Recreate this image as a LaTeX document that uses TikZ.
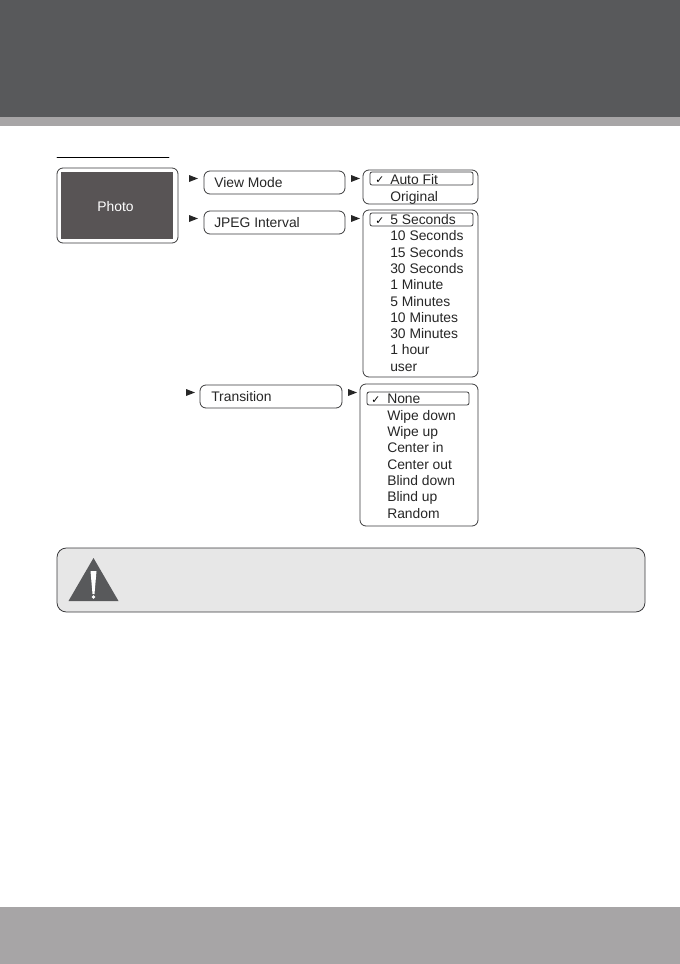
\documentclass[tikz,border=0pt]{standalone}
\usepackage{fontspec}
\setmainfont{Liberation Sans}
\newfontfamily\checkfont{DejaVu Sans}
\definecolor{banddark}{HTML}{58595B}
\definecolor{bandgrey}{HTML}{A7A5A6}
\definecolor{photogrey}{HTML}{585455}
\definecolor{notegrey}{HTML}{E7E7E7}
\definecolor{inkgrey}{HTML}{3A3A3C}
\tikzset{
  menubox/.style={draw=inkgrey,line width=0.6pt,rounded corners=4.5pt},
  selbox/.style={draw=inkgrey,line width=0.6pt,rounded corners=1.5pt},
  label/.style={anchor=base west,inner sep=0pt,text=black!85,font=\fontsize{10.4}{12}\selectfont},
  tick/.style={anchor=base west,inner sep=0pt,text=black,font=\checkfont\bfseries\fontsize{8}{9}\selectfont},
  pointer/.style={fill=black!85}
}
\begin{document}
\begin{tikzpicture}[x=0.75pt,y=-0.75pt,line cap=round,line join=round]
  \useasboundingbox (0,0) rectangle (680,964);
  % --- page bands ---
  \fill[banddark] (0,0) rectangle (680,117);
  \fill[bandgrey] (0,117) rectangle (680,126);
  \fill[bandgrey] (0,907) rectangle (680,964);
  \draw[black,line width=0.6pt] (57,157) -- (169,157);
  % --- photo button ---
  \draw[menubox] (57,168) rectangle (178,243);
  \fill[photogrey] (61,172) rectangle (173,239);
  \node[label,anchor=base,text=white] (photo) at (115.5,211) {Photo};
  % --- first column ---
  \draw[menubox] (204,171) rectangle (345,194);
  \node[label] (viewmode) at (214,187) {View Mode};
  \draw[menubox] (204,211) rectangle (345,234);
  \node[label] (jpeg) at (214,227) {JPEG Interval};
  \draw[menubox] (200,385) rectangle (342,408);
  \node[label] (transition) at (211,401) {Transition};
  % --- little pointers ---
  \foreach \x/\y in {189/175,189/215,186/389,351/175,351/215,348/389}
    \fill[pointer] (\x,\y) -- ++(9,3.5) -- ++(-9,3.5) -- cycle;
  % --- view mode list ---
  \draw[menubox] (363,170) rectangle (478,204);
  \draw[selbox] (370,172) rectangle (473,185);
  \node[tick] (tickview) at (375,183.5) {✓};
  \node[label] (autofit) at (390,184) {Auto Fit};
  \node[label] (original) at (390,201) {Original};
  % --- interval list ---
  \draw[menubox] (363,210) rectangle (478,377);
  \draw[selbox] (370,213) rectangle (473,226);
  \node[tick] (tickjpeg) at (375,224) {✓};
  \foreach \y/\txt [count=\i] in {224/5 Seconds,240/10 Seconds,257/15 Seconds,273/30 Seconds,
      289/1 Minute,306/5 Minutes,322/10 Minutes,338/30 Minutes,354/1 hour,371/user}
    \node[label] (interval\i) at (390,\y) {\txt};
  % --- transition list ---
  \draw[menubox] (360,384) rectangle (478,526);
  \draw[selbox] (367,392) rectangle (469,405);
  \node[tick] (ticktrans) at (371,403.5) {✓};
  \foreach \y/\txt [count=\i] in {403/None,420/Wipe down,436/Wipe up,452/Center in,
      469/Center out,485/Blind down,501/Blind up,518/Random}
    \node[label] (trans\i) at (387,\y) {\txt};
  % --- note box ---
  \draw[menubox,fill=notegrey,rounded corners=7pt] (57,548) rectangle (645,612);
  \fill[banddark] (93.5,558) -- (118.5,601) -- (68.5,601) -- cycle;
  \fill[white] (90.5,571) -- (96.5,571) -- (94.5,594) -- (92.5,594) -- cycle;
  \fill[white] (93.5,597) circle (1.8);
\end{tikzpicture}
\end{document}
